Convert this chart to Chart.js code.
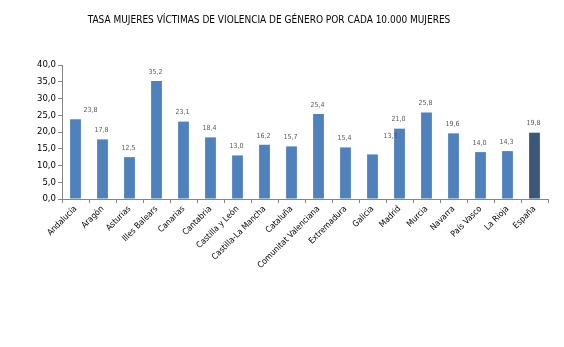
<!DOCTYPE html>
<html>
<head>
<meta charset="utf-8">
<script src="https://cdn.jsdelivr.net/npm/chart.js@4/dist/chart.umd.min.js"></script>
<style>
  html, body { margin: 0; padding: 0; background: #fff; }
  canvas { display: block; }
</style>
</head>
<body>
<canvas id="c" width="564" height="347"></canvas>
<script>
const TITLE = 'TASA MUJERES VÍCTIMAS DE VIOLENCIA DE GÉNERO POR CADA 10.000 MUJERES';
const categories = ['Andalucía','Aragón','Asturias','Illes Balears','Canarias','Cantabria','Castilla y León','Castilla-La Mancha','Cataluña','Comunitat Valenciana','Extremadura','Galicia','Madrid','Murcia','Navarra','País Vasco','La Rioja','España'];
const rates = [23.8, 17.8, 12.5, 35.2, 23.1, 18.4, 13.0, 16.2, 15.7, 25.4, 15.4, 13.3, 21.0, 25.8, 19.6, 14.0, 14.3, 19.8];
const yTicks = [0, 5, 10, 15, 20, 25, 30, 35, 40];

const FONT = "'DejaVu Sans Condensed', 'DejaVu Sans', sans-serif";
const fmt = v => Number(v).toFixed(1).replace('.', ',');

const barColors = categories.map(c => c === 'España' ? '#3B5878' : '#4F81BD');

// Label offsets (px) reproducing the reference's label placement quirks
const labelOffsets = { 'Andalucía': [15, 0], 'Galicia': [18, -9] };

const titlePlugin = {
  id: 'ownTitle',
  afterDraw(chart) {
    const ctx = chart.ctx;
    ctx.save();
    ctx.font = '10px ' + FONT;
    ctx.fillStyle = '#000';
    ctx.textAlign = 'center';
    ctx.textBaseline = 'middle';
    ctx.fillText(TITLE, 269, 20);
    ctx.restore();
  }
};

const valueLabels = {
  id: 'valueLabels',
  afterDatasetsDraw(chart) {
    const ctx = chart.ctx;
    const meta = chart.getDatasetMeta(0);
    ctx.save();
    ctx.font = '7px ' + FONT;
    ctx.fillStyle = '#595959';
    ctx.textAlign = 'center';
    ctx.textBaseline = 'middle';
    meta.data.forEach((bar, i) => {
      const off = labelOffsets[categories[i]] || [-1, 0];
      ctx.fillText(fmt(rates[i]), bar.x + off[0], bar.y - 9 + off[1]);
    });
    ctx.restore();
  }
};

new Chart(document.getElementById('c'), {
  type: 'bar',
  data: {
    labels: categories,
    datasets: [{
      data: rates,
      backgroundColor: barColors,
      borderWidth: 0,
      categoryPercentage: 1.0,
      barPercentage: 0.4
    }]
  },
  options: {
    responsive: false,
    devicePixelRatio: 1,
    animation: false,
    layout: { padding: { top: 65, right: 16, left: 0, bottom: 0 } },
    plugins: {
      legend: { display: false },
      title: { display: false },
      tooltip: { enabled: false }
    },
    scales: {
      x: {
        grid: { display: true, drawOnChartArea: false, drawTicks: true, tickLength: 4, color: '#868686', offset: true },
        border: { display: true, color: '#868686' },
        ticks: { autoSkip: false, minRotation: 45, maxRotation: 45, padding: 1, color: '#000', font: { family: FONT, size: 8.5 } },
        afterFit(s) { s.height = 148; }
      },
      y: {
        min: 0, max: 40,
        afterBuildTicks(s) { s.ticks = yTicks.map(v => ({ value: v })); },
        grid: { display: true, drawOnChartArea: false, drawTicks: true, tickLength: 4, color: '#868686' },
        border: { display: true, color: '#868686' },
        ticks: { padding: 2, color: '#000', font: { family: FONT, size: 9.5 }, callback: v => fmt(v) },
        afterFit(s) { s.width = 62; }
      }
    }
  },
  plugins: [titlePlugin, valueLabels]
});
</script>
</body>
</html>
